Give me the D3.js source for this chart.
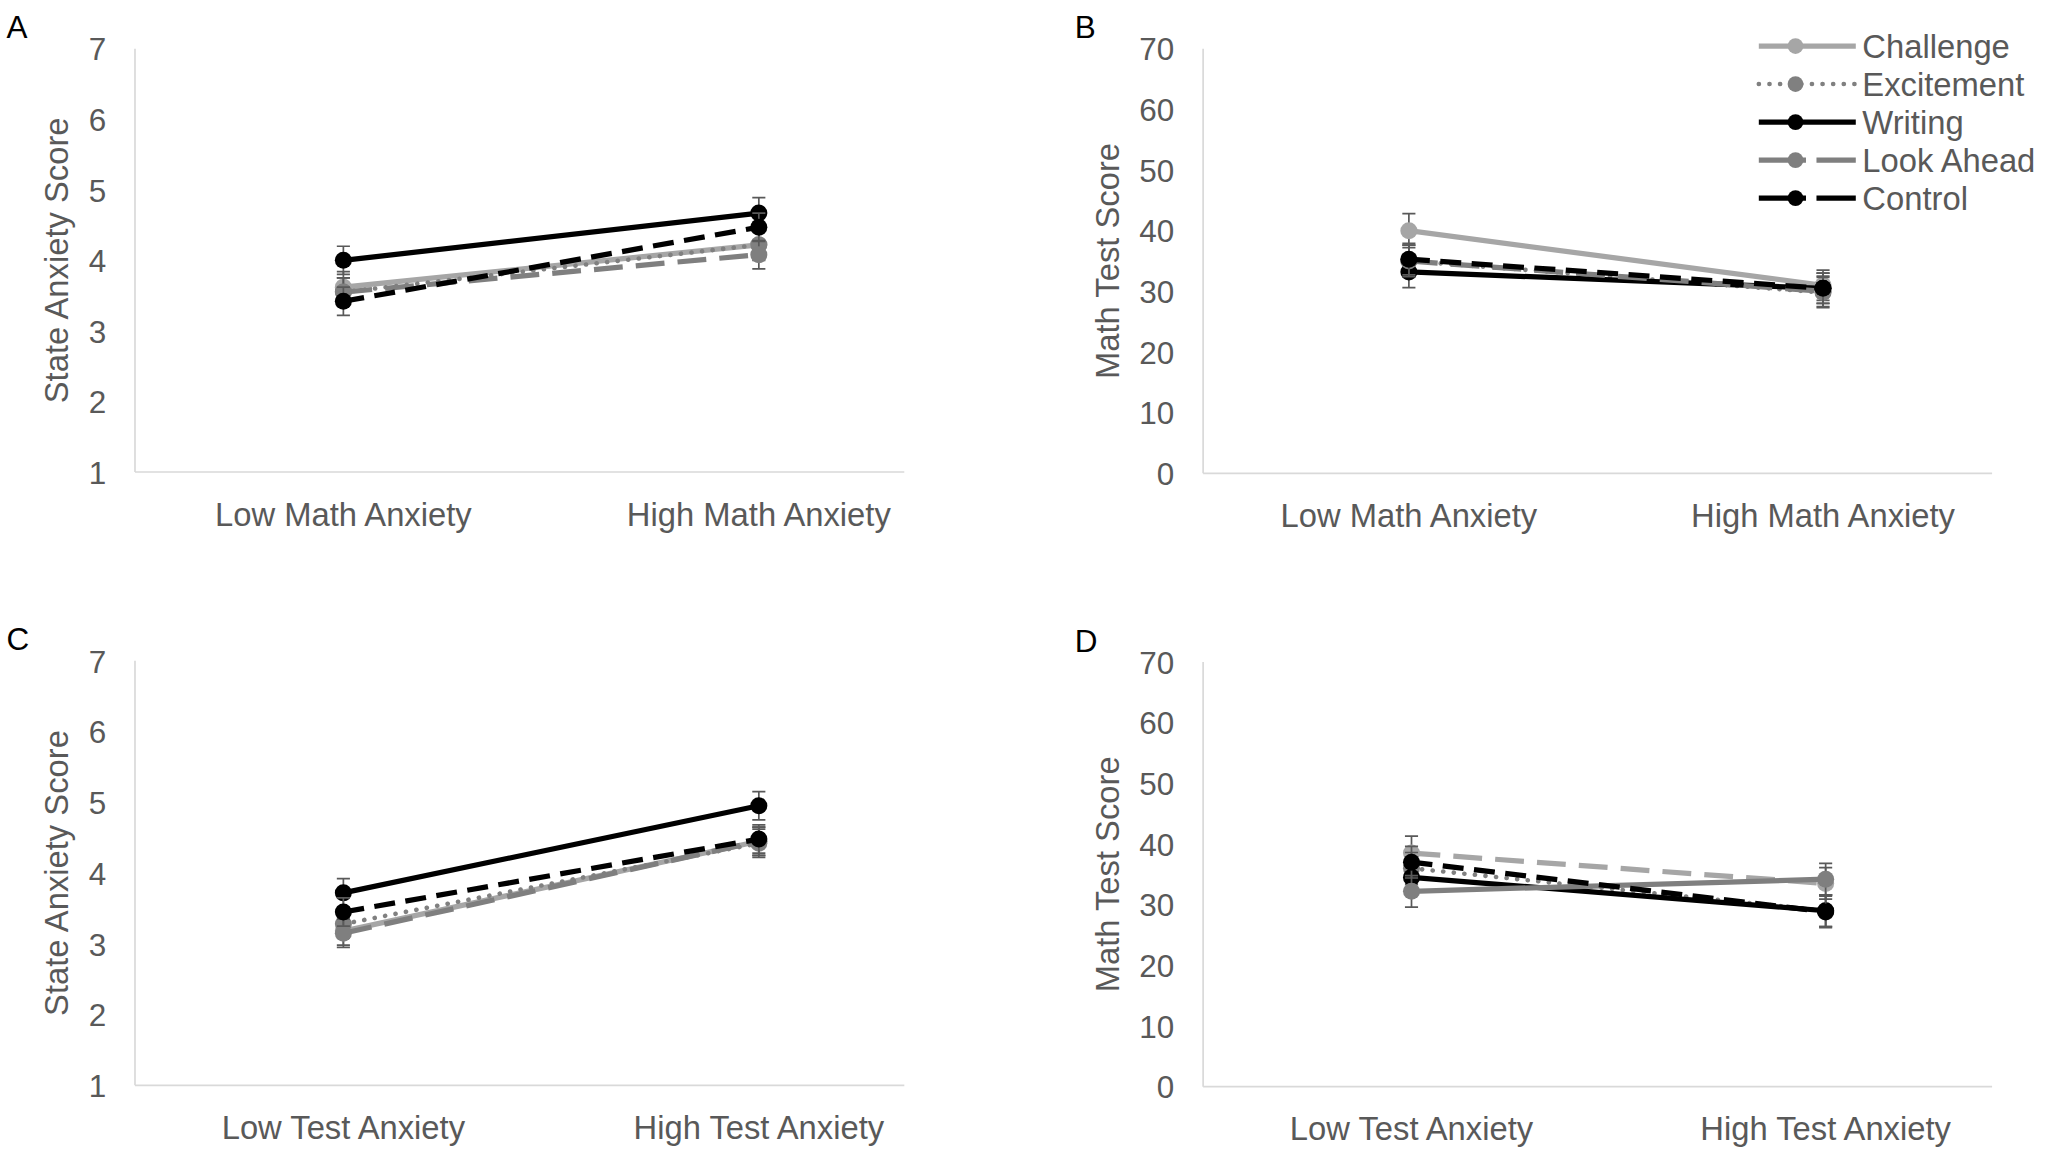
<!DOCTYPE html>
<html><head><meta charset="utf-8">
<script src="https://cdn.jsdelivr.net/npm/d3@7"></script>
<style>body{margin:0;background:#fff}svg{display:block}text{font-family:"Liberation Sans",Arial,sans-serif;fill:#595959}</style>
</head><body><svg id="c"></svg>
<script>
const seriesNames = ["Challenge", "Excitement", "Writing", "Look Ahead", "Control"];
// values per series: [low, high]
const aVals = [[3.62, 4.22], [3.55, 4.22], [4.0, 4.67], [3.55, 4.08], [3.42, 4.47]];
const bVals = [[40, 31], [35, 29.8], [33.2, 30.5], [35, 30], [35.3, 30.5]];
const cVals = [[3.18, 4.45], [3.28, 4.42], [3.72, 4.95], [3.15, 4.45], [3.45, 4.48]];
const dVals = [[38.5, 33.5], [36, 29], [34.5, 29], [32.2, 34.2], [37, 28.8]];
const aErr = [[0.22, 0.22], [0.2, 0.2], [0.2, 0.22], [0.2, 0.2], [0.2, 0.2]];
const bErr = [[2.8, 2.5], [2.6, 2.5], [2.6, 2.5], [2.6, 2.5], [2.6, 2.5]];
const cErr = [[0.2, 0.2], [0.2, 0.2], [0.2, 0.2], [0.2, 0.2], [0.2, 0.2]];
const dErr = [[2.8, 2.6], [2.6, 2.6], [2.6, 2.6], [2.6, 2.6], [2.6, 2.6]];
const mathCats = ["Low Math Anxiety", "High Math Anxiety"];
const testCats = ["Low Test Anxiety", "High Test Anxiety"];

const styles = {
  "Challenge": {c: "#a6a6a6", w: 4, dash: null, dot: "#a6a6a6"},
  "Excitement": {c: "#808080", w: 3.5, dash: "0.1 8", dot: "#808080"},
  "Writing": {c: "#000", w: 4, dash: null, dot: "#000"},
  "Look Ahead": {c: "#7f7f7f", w: 4, dash: "22 10", dot: "#7f7f7f"},
  "Control": {c: "#000", w: 4, dash: "16 8", dot: "#000"}
};

const svg = d3.select("#c").attr("width", 2055).attr("height", 1155).attr("viewBox", "0 0 1568 881");

function panel(letter, ox, top, bottom, right, cats, vals, errs, domain, ticks, ylab, catX, labX, dashOverride) {
  const g = svg.append("g");
  g.append("text").attr("x", ox - 98).attr("y", top - 8).attr("font-size", 24).style("fill", "#000").text(letter);
  const y = d3.scaleLinear().domain(domain).range([bottom, top]);
  const x = d3.scalePoint().domain(cats).range(catX);
  g.append("line").attr("x1", ox).attr("x2", ox).attr("y1", top).attr("y2", bottom).attr("stroke", "#d9d9d9").attr("stroke-width", 1.3);
  g.append("line").attr("x1", ox).attr("x2", right).attr("y1", bottom).attr("y2", bottom).attr("stroke", "#d9d9d9").attr("stroke-width", 1.3);
  g.selectAll(".yt").data(ticks).join("text").attr("x", ox - 22).attr("y", d => y(d) + 9)
    .attr("text-anchor", "end").attr("font-size", 24).text(d => d);
  g.selectAll(".xt").data(cats).join("text").attr("x", d => x(d)).attr("y", bottom + 41)
    .attr("text-anchor", "middle").attr("font-size", 25).text(d => d);
  g.append("text").attr("transform", `translate(${labX},${(top + bottom) / 2}) rotate(-90)`)
    .attr("text-anchor", "middle").attr("font-size", 25).text(ylab);
  const line = d3.line().x((d, i) => x(cats[i])).y(d => y(d));
  seriesNames.forEach((s, k) => {
    const st = styles[s];
    const sg = g.append("g");
    vals[k].forEach((v, i) => {
      const cx = x(cats[i]);
      const e = errs[k][i];
      sg.append("path").attr("d", `M${cx},${y(v - e)}V${y(v + e)}M${cx - 5},${y(v - e)}H${cx + 5}M${cx - 5},${y(v + e)}H${cx + 5}`)
        .attr("stroke", "#595959").attr("stroke-width", 1.3).attr("fill", "none");
    });
    const dash = (dashOverride && s in dashOverride) ? dashOverride[s] : st.dash;
    sg.append("path").attr("d", line(vals[k])).attr("fill", "none").attr("stroke", st.c)
      .attr("stroke-width", st.w).attr("stroke-dasharray", dash).attr("stroke-linecap", dash && dash.startsWith("0.1") ? "round" : "butt");
    sg.selectAll("circle").data(vals[k]).join("circle").attr("cx", (d, i) => x(cats[i])).attr("cy", d => y(d))
      .attr("r", 6.5).attr("fill", st.dot);
  });
}

panel("A", 103, 37, 360, 690, mathCats, aVals, aErr, [1, 7], [1, 2, 3, 4, 5, 6, 7], "State Anxiety Score", [262, 579], 52);
panel("B", 918, 37, 361, 1520, mathCats, bVals, bErr, [0, 70], d3.range(0, 71, 10), "Math Test Score", [1075, 1391], 854);
panel("C", 103, 504, 828, 690, testCats, cVals, cErr, [1, 7], [1, 2, 3, 4, 5, 6, 7], "State Anxiety Score", [262, 579], 52);
panel("D", 918, 505, 829, 1520, testCats, dVals, dErr, [0, 70], d3.range(0, 71, 10), "Math Test Score", [1077, 1393], 854,
  {"Challenge": "22 10", "Look Ahead": null});

// legend
const leg = svg.append("g");
seriesNames.forEach((s, i) => {
  const st = styles[s];
  const yy = 35 + i * 29;
  leg.append("line").attr("x1", 1342).attr("x2", 1416).attr("y1", yy).attr("y2", yy).attr("stroke", st.c)
    .attr("stroke-width", st.w).attr("stroke-dasharray", st.dash === "22 10" || st.dash === "16 8" ? "36 8" : st.dash)
    .attr("stroke-linecap", st.dash && st.dash.startsWith("0.1") ? "round" : "butt");
  leg.append("circle").attr("cx", 1370).attr("cy", yy).attr("r", 6).attr("fill", st.dot);
  leg.append("text").attr("x", 1421).attr("y", yy + 9).attr("font-size", 25).text(s);
});
</script></body></html>
